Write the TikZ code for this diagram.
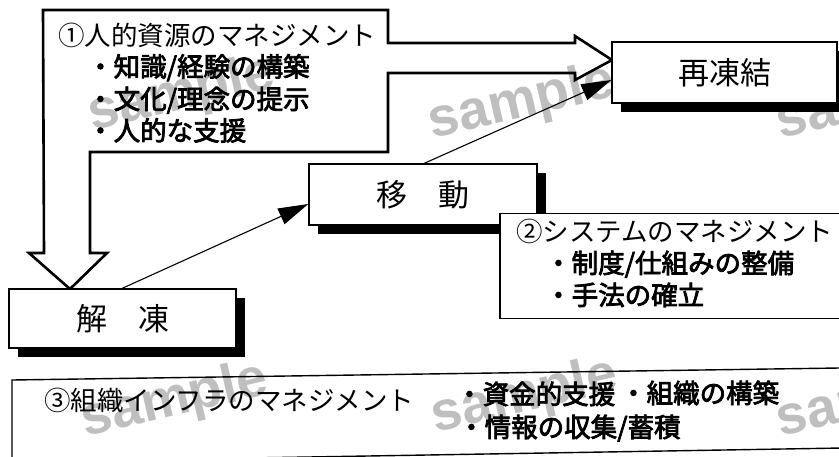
\documentclass[tikz,border=0pt]{standalone}
\usepackage{fontspec}
\setmainfont{Noto Sans CJK JP}
\newfontfamily\jpbold[FakeBold=3]{Noto Sans CJK JP}
\newfontfamily\wmfont{Liberation Sans}
\usetikzlibrary{arrows.meta,calc}
\begin{document}
\begin{tikzpicture}[x=1pt,y=-1pt,
  box/.style={draw, line width=1.4pt, fill=white, inner sep=0pt},
  shadowed/.style={preaction={fill=black, transform canvas={xshift=8.5pt,yshift=-8.5pt}}},
  biglabel/.style={font=\fontsize{31}{31}\selectfont},
  txt/.style={font=\fontsize{26.5}{26.5}\selectfont, anchor=base west, inner sep=0pt},
  btxt/.style={font=\jpbold\fontsize{26.5}{26.5}\selectfont, anchor=base west, inner sep=0pt},
  thinarrow/.style={line width=1.1pt, -{Triangle[length=30pt,width=17pt]}},
  bigarrow/.style={line width=2.6pt, line join=miter},
  wm/.style={font=\wmfont\bfseries\fontsize{55}{55}\selectfont, text=gray!50, anchor=base, rotate=13, inner sep=0pt}
]
\fill[white] (0,0) rectangle (839,456);
\useasboundingbox (0,0) rectangle (839,456);

% watermarks (beneath everything)
\node[wm] (w1) at (185,109) {sample};
\node[wm] (w2) at (525,117) {sample};
\node[wm] (w3) at (873,117) {sample};
\node[wm] (w4) at (178,415) {sample};
\node[wm] (w5) at (528,411) {sample};
\node[wm] (w6) at (873,415) {sample};

% big hollow arrow of block 1
\draw[bigarrow] (43,10) -- (388,10) -- (388,43) -- (575,43) -- (575,36) -- (612,60)
  -- (575,80) -- (575,73) -- (388,73) -- (388,152) -- (90,152) -- (90,253)
  -- (107,253) -- (70,289) -- (29,253) -- (44,253) -- cycle;

% main boxes
\node[box, shadowed, biglabel, minimum width=225, minimum height=61] (saitou) at (724.5,72.5) {再凍結};
\node[box, shadowed, biglabel, minimum width=228, minimum height=61] (idou) at (423,194.5) {移　動};
\node[box, shadowed, biglabel, minimum width=227, minimum height=59] (kaito) at (122.5,318.5) {解　凍};

% box 2
\node[box, minimum width=350, minimum height=105] (sysbox) at (675,266) {};

% box 3 (slightly tilted)
\draw[line width=1.4pt] (12,462) -- (12,380) -- (860,367.7) -- (860,447.7) -- cycle;

% connectors
\draw[thinarrow] ($(kaito.north west)+(114,0)$) -- ($(idou.west)+(0,9.5)$);
\draw[thinarrow] ($(idou.north west)+(116,0)$) -- ($(saitou.west)+(0,7.5)$);

% block 1 texts
\node[txt]  (h1) at (58,45)   {①人的資源のマネジメント};
\node[btxt] (b1) at (87,76.5) {・知識/経験の構築};
\node[btxt] (b2) at (87,109)  {・文化/理念の提示};
\node[btxt] (b3) at (87,140.5){・人的な支援};

% block 2 texts
\node[txt]  (h2) at (516,241) {②システムのマネジメント};
\node[btxt] (b4) at (545,273) {・制度/仕組みの整備};
\node[btxt] (b5) at (545,305) {・手法の確立};

% block 3 texts
\node[txt]  (h3) at (44,410)  {③組織インフラのマネジメント};
\node[btxt] (b6) at (456,404) {・資金的支援};
\node[btxt] (b7) at (620,403) {・組織の構築};
\node[btxt] (b8) at (458,437) {・情報の収集/蓄積};
\end{tikzpicture}
\end{document}
